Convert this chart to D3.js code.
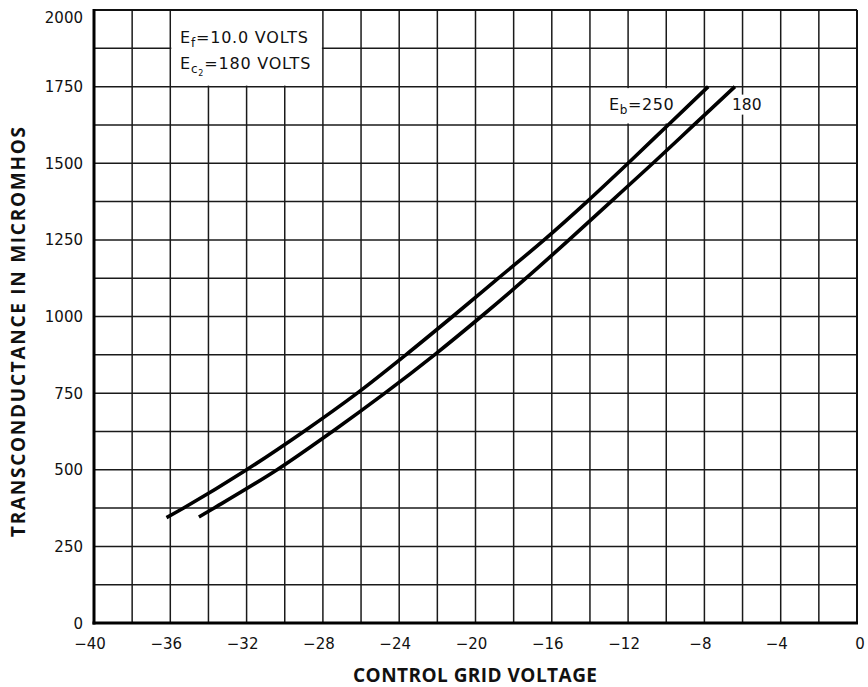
<!DOCTYPE html>
<html><head><meta charset="utf-8">
<script src="https://cdn.jsdelivr.net/npm/d3@7"></script>
<style>
body{margin:0;background:#fff}
svg{display:block}
text{font-family:"DejaVu Sans",sans-serif;fill:#111}
.title{font-family:"Open Sans","DejaVu Sans",sans-serif;font-weight:700}
</style>
</head><body>
<svg id="chart" width="868" height="687"></svg>
<script>
// ---- data ----
const xTickValues = [-40,-36,-32,-28,-24,-20,-16,-12,-8,-4,0];
const yTickValues = [0,250,500,750,1000,1250,1500,1750,2000];
const xGridValues = [-38,-36,-34,-32,-30,-28,-26,-24,-22,-20,-18,-16,-14,-12,-10,-8,-6,-4,-2];
const yGridValues = [125,250,375,500,625,750,875,1000,1125,1250,1375,1500,1625,1750,1875];
// Eb = 250 volts curve: [control grid voltage, transconductance (micromhos)]
const curveEb250 = [[-36.2,344],[-35.3,375],[-32.0,500],[-29.0,625],[-26.2,750],[-23.65,875],[-21.2,1000],[-18.8,1125],[-16.4,1250],[-14.15,1375],[-12.0,1500],[-9.9,1625],[-7.8,1750]];
// Eb = 180 volts curve
const curveEb180 = [[-34.5,346],[-33.7,375],[-30.4,500],[-27.5,625],[-24.75,750],[-22.15,875],[-19.7,1000],[-17.35,1125],[-15.1,1250],[-12.9,1375],[-10.7,1500],[-8.55,1625],[-6.4,1750]];
// note box extent (volts / micromhos)
const noteBox = {x0:-36, x1:-28, y0:1750, y1:2000};

// ---- scales ----
const svg = d3.select("#chart");
const x = d3.scaleLinear().domain([-40,0]).range([94,857]);
const y = d3.scaleLinear().domain([0,2000]).range([623,10]);
const fmt = v => v < 0 ? "\u2212" + Math.abs(v) : String(v);

// grid
const g = svg.append("g");
g.selectAll(".vg").data(xGridValues).join("line")
  .attr("x1",d=>x(d)).attr("x2",d=>x(d)).attr("y1",y(0)).attr("y2",y(2000))
  .attr("stroke","#1a1a1a").attr("stroke-width",1.5);
g.selectAll(".hg").data(yGridValues).join("line")
  .attr("x1",x(-40)).attr("x2",x(0)).attr("y1",d=>y(d)).attr("y2",d=>y(d))
  .attr("stroke","#1a1a1a").attr("stroke-width",1.5);

// note box (clears grid inside)
g.append("rect")
  .attr("x",x(noteBox.x0)+1).attr("y",y(noteBox.y1)+1)
  .attr("width",x(noteBox.x1)-x(noteBox.x0)-2).attr("height",y(noteBox.y0)-y(noteBox.y1)-2)
  .attr("fill","#fff");

// label background for Eb=250
g.append("rect")
  .attr("x",x(-14)+8).attr("y",y(1750)+1.5)
  .attr("width",x(-8)-x(-14)-12).attr("height",y(1625)-y(1750)-3)
  .attr("fill","#fff");
// label background for 180
g.append("rect")
  .attr("x",x(-6)-14).attr("y",y(1750)+8)
  .attr("width",32).attr("height",20)
  .attr("fill","#fff");

// frame
svg.append("line").attr("x1",x(-40)).attr("x2",x(0)).attr("y1",y(2000)).attr("y2",y(2000)).attr("stroke","#111").attr("stroke-width",2);
svg.append("line").attr("x1",x(0)).attr("x2",x(0)).attr("y1",y(2000)).attr("y2",y(0)).attr("stroke","#111").attr("stroke-width",2);
svg.append("line").attr("x1",x(-40)).attr("x2",x(-40)).attr("y1",y(2000)-1).attr("y2",y(0)+1.5).attr("stroke","#000").attr("stroke-width",3);
svg.append("line").attr("x1",x(-40)-1.5).attr("x2",x(0)+1).attr("y1",y(0)).attr("y2",y(0)).attr("stroke","#000").attr("stroke-width",3);

// curves
const line = d3.line().x(d=>x(d[0])).y(d=>y(d[1])).curve(d3.curveCatmullRom.alpha(0.5));
[curveEb250, curveEb180].forEach(c=>{
  svg.append("path").attr("d",line(c)).attr("fill","none")
    .attr("stroke","#000").attr("stroke-width",3.6).attr("stroke-linecap","butt");
});

// tick labels
svg.selectAll(".yl").data(yTickValues).join("text")
  .attr("x",83).attr("y",d=>Math.max(y(d)+5.5,23)).attr("text-anchor","end")
  .attr("font-size",15).text(d=>d);
svg.selectAll(".xl").data(xTickValues).join("text")
  .attr("x",d=>x(d)+(d<0?-4:3)).attr("y",649).attr("text-anchor","middle")
  .attr("font-size",15).text(fmt);

// axis titles
svg.append("text").attr("class","title").attr("x",475).attr("y",682).attr("text-anchor","middle")
  .attr("font-size",19).attr("textLength",244).text("CONTROL GRID VOLTAGE");
svg.append("text").attr("class","title").attr("transform","translate(25,332) rotate(-90)").attr("text-anchor","middle")
  .attr("font-size",19).attr("textLength",410).text("TRANSCONDUCTANCE IN MICROMHOS");

// note text
const t1 = svg.append("text").attr("x",180).attr("y",43).attr("font-size",16).attr("letter-spacing",0.8);
t1.append("tspan").text("E");
t1.append("tspan").attr("dy",4).attr("font-size",12).text("f");
t1.append("tspan").attr("dy",-4).text("=10.0 VOLTS");
const t2 = svg.append("text").attr("x",180).attr("y",69).attr("font-size",16).attr("letter-spacing",0.8);
t2.append("tspan").text("E");
t2.append("tspan").attr("dy",4).attr("font-size",12).text("c");
t2.append("tspan").attr("dy",3).attr("font-size",8).text("2");
t2.append("tspan").attr("dy",-7).text("=180 VOLTS");

// curve labels
const t3 = svg.append("text").attr("x",609).attr("y",110).attr("font-size",16).attr("letter-spacing",0.6);
t3.append("tspan").text("E");
t3.append("tspan").attr("dy",4).attr("font-size",12).text("b");
t3.append("tspan").attr("dy",-4).text("=250");
svg.append("text").attr("x",732).attr("y",110).attr("font-size",15.5).text("180");
</script>
</body></html>
